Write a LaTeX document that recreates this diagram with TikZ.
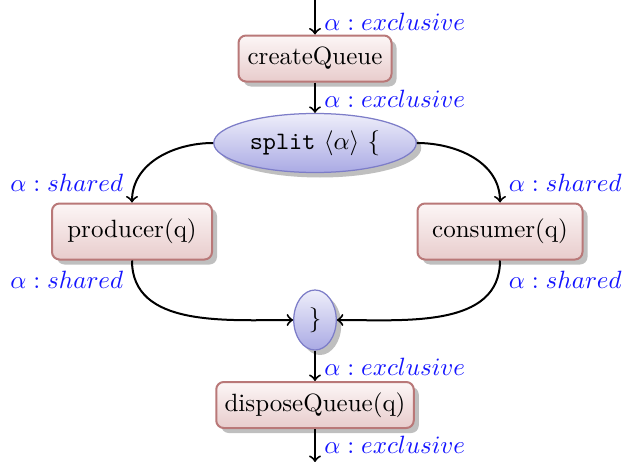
\documentclass[tikz,border=0pt]{standalone}
\usetikzlibrary{shapes.geometric,shadows}

\definecolor{boxline}{RGB}{185,120,120}
\definecolor{boxtop}{RGB}{252,246,246}
\definecolor{boxbot}{RGB}{232,204,204}
\definecolor{ovalline}{RGB}{125,125,200}
\definecolor{ovaltop}{RGB}{238,238,250}
\definecolor{ovalbot}{RGB}{170,170,228}
\definecolor{lblue}{RGB}{20,20,255}

\tikzset{
  taskbox/.style={rectangle, rounded corners=3pt, draw=boxline, line width=0.8pt,
    top color=boxtop, bottom color=boxbot, inner sep=0pt,
    drop shadow={shadow xshift=2pt, shadow yshift=-2pt, fill=black, opacity=0.25}},
  forkoval/.style={ellipse, draw=ovalline, line width=0.5pt,
    top color=ovaltop, bottom color=ovalbot, inner sep=0pt,
    drop shadow={shadow xshift=2pt, shadow yshift=-2pt, fill=black, opacity=0.25}},
  flow/.style={->, thick},
  perm/.style={text=lblue, inner sep=3.33pt}
}

\begin{document}
\begin{tikzpicture}[x=1pt, y=1pt]
  \useasboundingbox (0,0) rectangle (249.2,-184.8);

  % tasks and fork/join markers
  \node[taskbox, minimum width=61.2pt, minimum height=18.4pt] (cq) at (126,-23.4) {createQueue};
  \node[forkoval, minimum width=81pt, minimum height=23.6pt] (split) at (126,-57.2)
       {\texttt{split} $\langle\alpha\rangle$ \{};
  \node[taskbox, minimum width=64pt, minimum height=22.4pt] (prod) at (52.8,-92.6) {producer(q)};
  \node[taskbox, minimum width=66pt, minimum height=22.4pt] (cons) at (200,-92.6) {consumer(q)};
  \node[forkoval, minimum width=17pt, minimum height=24pt] (join) at (126,-128) {\}};
  \node[taskbox, minimum width=79pt, minimum height=18.4pt] (dq) at (126,-162) {disposeQueue(q)};

  \coordinate (in) at (126,0);
  \coordinate (out) at (126,-184.8);

  % sequential flow
  \draw[flow] (in) -- (cq.north)
    node[perm, pos=1, anchor=base west, yshift=1.6pt] (l1) {$\alpha : exclusive$};
  \draw[flow] (cq.south) -- (split.north)
    node[perm, pos=1, anchor=base west, yshift=2pt] (l2) {$\alpha : exclusive$};
  \draw[flow] (join.south) -- (dq.north)
    node[perm, pos=1, anchor=base west, yshift=2.4pt] (l3) {$\alpha : exclusive$};
  \draw[flow] (dq.south) -- (out)
    node[perm, pos=1, anchor=base west, yshift=3.6pt] (l4) {$\alpha : exclusive$};

  % fork branches
  \draw[flow] (split.west) to[out=180, in=90] (prod.north);
  \node[perm, anchor=base east, yshift=4.4pt] (l5) at (prod.north) {$\alpha : shared$};
  \draw[flow] (split.east) to[out=0, in=90] (cons.north);
  \node[perm, anchor=base west, yshift=4.4pt] (l6) at (cons.north) {$\alpha : shared$};

  % join branches
  \draw[flow] (prod.south) to[out=-90, in=180] (join.west);
  \node[perm, anchor=base east, yshift=-11.2pt] (l7) at (prod.south) {$\alpha : shared$};
  \draw[flow] (cons.south) to[out=-90, in=0] (join.east);
  \node[perm, anchor=base west, yshift=-11.2pt] (l8) at (cons.south) {$\alpha : shared$};
\end{tikzpicture}
\end{document}
